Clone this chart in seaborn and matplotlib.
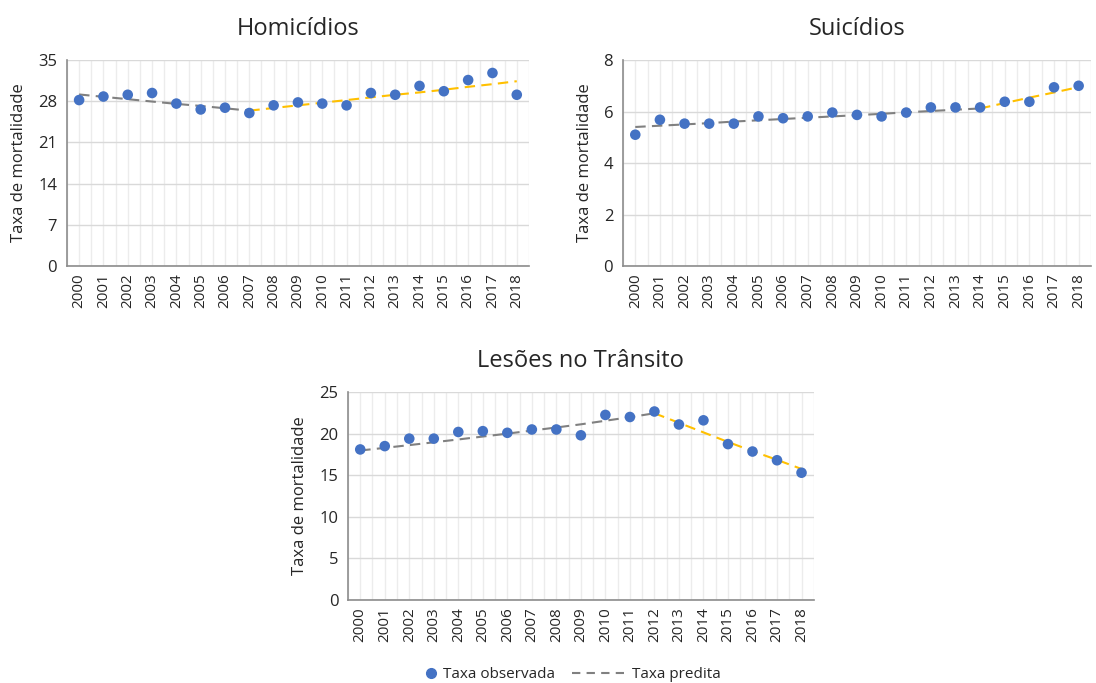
import numpy as np
import pandas as pd
import seaborn as sns
import matplotlib.pyplot as plt
from matplotlib.lines import Line2D

# ====== Dados ======
ANOS = list(range(2000, 2019))

HOMIC_OBS = [28.2, 28.8, 29.1, 29.4, 27.6, 26.6, 26.9, 26.0, 27.3, 27.8,
             27.6, 27.3, 29.4, 29.1, 30.6, 29.7, 31.6, 32.8, 29.1]
HOMIC_PRED_1 = [29.15, 28.75, 28.35, 27.95, 27.55, 27.2, 26.8, 26.4]          # 2000-2007
HOMIC_PRED_2 = [26.4, 26.85, 27.3, 27.75, 28.2, 28.65, 29.1, 29.5,
                29.95, 30.45, 30.9, 31.4]                                       # 2007-2018

SUIC_OBS = [5.10, 5.68, 5.53, 5.53, 5.53, 5.81, 5.74, 5.81, 5.96, 5.87,
            5.81, 5.96, 6.16, 6.16, 6.16, 6.38, 6.38, 6.94, 7.00]
SUIC_PRED_1 = [5.40, 5.45, 5.50, 5.55, 5.61, 5.66, 5.71, 5.76, 5.81, 5.86,
               5.91, 5.97, 6.02, 6.07, 6.12]                                    # 2000-2014
SUIC_PRED_2 = [6.12, 6.33, 6.54, 6.74, 6.95]                                    # 2014-2018

TRANS_OBS = [18.1, 18.5, 19.4, 19.4, 20.2, 20.3, 20.1, 20.5, 20.5, 19.8,
             22.25, 22.0, 22.66, 21.1, 21.6, 18.74, 17.85, 16.8, 15.3]
TRANS_PRED_1 = [17.97, 18.29, 18.62, 18.96, 19.3, 19.65, 20.0, 20.37, 20.74,
                21.12, 21.55, 21.98, 22.45]                                     # 2000-2012
TRANS_PRED_2 = [22.45, 21.3, 20.15, 19.0, 17.9, 16.85, 15.75]                   # 2012-2018

# ====== Estilo ======
AZUL = "#4472C4"
CINZA = "#808080"
AMARELO = "#FFC000"
FONTE = ["Open Sans", "DejaVu Sans"]

sns.set_theme(style="white")
plt.rcParams["font.family"] = FONTE
plt.rcParams["text.color"] = "#262626"
plt.rcParams["xtick.color"] = "#262626"
plt.rcParams["ytick.color"] = "#262626"


def painel(ax, titulo, obs, pred1, pred2, ymax, passo):
    n1 = len(pred1)
    df_obs = pd.DataFrame({"x": range(len(ANOS)), "y": obs})
    df_p1 = pd.DataFrame({"x": range(n1), "y": pred1})
    df_p2 = pd.DataFrame({"x": range(n1 - 1, n1 - 1 + len(pred2)), "y": pred2})

    sns.lineplot(data=df_p1, x="x", y="y", ax=ax, color=CINZA, lw=1.5,
                 dashes=False, linestyle=(0, (5, 3)), zorder=3)
    sns.lineplot(data=df_p2, x="x", y="y", ax=ax, color=AMARELO, lw=1.5,
                 dashes=False, linestyle=(0, (5, 3)), zorder=3)
    sns.scatterplot(data=df_obs, x="x", y="y", ax=ax, color=AZUL, s=58,
                    edgecolor="none", zorder=4)

    ax.set_xlim(-0.5, len(ANOS) - 0.5)
    ax.set_ylim(0, ymax)
    ax.set_yticks(np.arange(0, ymax + 0.01, passo))
    ax.set_xticks(range(len(ANOS)))
    ax.set_xticks(np.arange(-0.5, len(ANOS), 1.0), minor=True)
    ax.set_xticklabels(ANOS, rotation=90, fontsize=11)
    ax.tick_params(axis="y", labelsize=12, length=0, pad=7)
    ax.tick_params(axis="x", which="both", length=0, pad=5)

    ax.grid(axis="y", color="#d9d9d9", lw=1.0, zorder=0)
    ax.grid(axis="x", which="both", color="#ececec", lw=1.0, zorder=0)
    ax.set_axisbelow(True)

    for lado in ["top", "right"]:
        ax.spines[lado].set_visible(False)
    for lado in ["left", "bottom"]:
        ax.spines[lado].set_color("#8c8c8c")
        ax.spines[lado].set_linewidth(1.2)

    ax.set_xlabel("")
    ax.set_ylabel("Taxa de mortalidade", fontsize=12, labelpad=8)
    ax.set_title(titulo, fontsize=17, pad=18)


fig = plt.figure(figsize=(10.96, 6.83), dpi=100)
ax1 = fig.add_axes([0.0611, 0.6105, 0.4215, 0.3016])
ax2 = fig.add_axes([0.5684, 0.6105, 0.4270, 0.3016])
ax3 = fig.add_axes([0.3175, 0.1215, 0.4250, 0.3045])

painel(ax1, "Homicídios", HOMIC_OBS, HOMIC_PRED_1, HOMIC_PRED_2, 35, 7)
painel(ax2, "Suicídios", SUIC_OBS, SUIC_PRED_1, SUIC_PRED_2, 8, 2)
painel(ax3, "Lesões no Trânsito", TRANS_OBS, TRANS_PRED_1, TRANS_PRED_2, 25, 5)

# legenda em duas partes (comprimentos de handle diferentes)
h_obs = Line2D([], [], marker="o", color=AZUL, linestyle="none", markersize=7)
h_pred = Line2D([], [], color=CINZA, lw=1.5, linestyle=(0, (4, 3)))
fig.legend([h_obs], ["Taxa observada"], loc="center left",
           bbox_to_anchor=(0.376, 0.012), frameon=False, fontsize=11,
           handlelength=0.7, handletextpad=0.4)
fig.legend([h_pred], ["Taxa predita"], loc="center left",
           bbox_to_anchor=(0.5095, 0.012), frameon=False, fontsize=11,
           handlelength=3.4, handletextpad=0.5)

fig.savefig("out.png", dpi=100)
